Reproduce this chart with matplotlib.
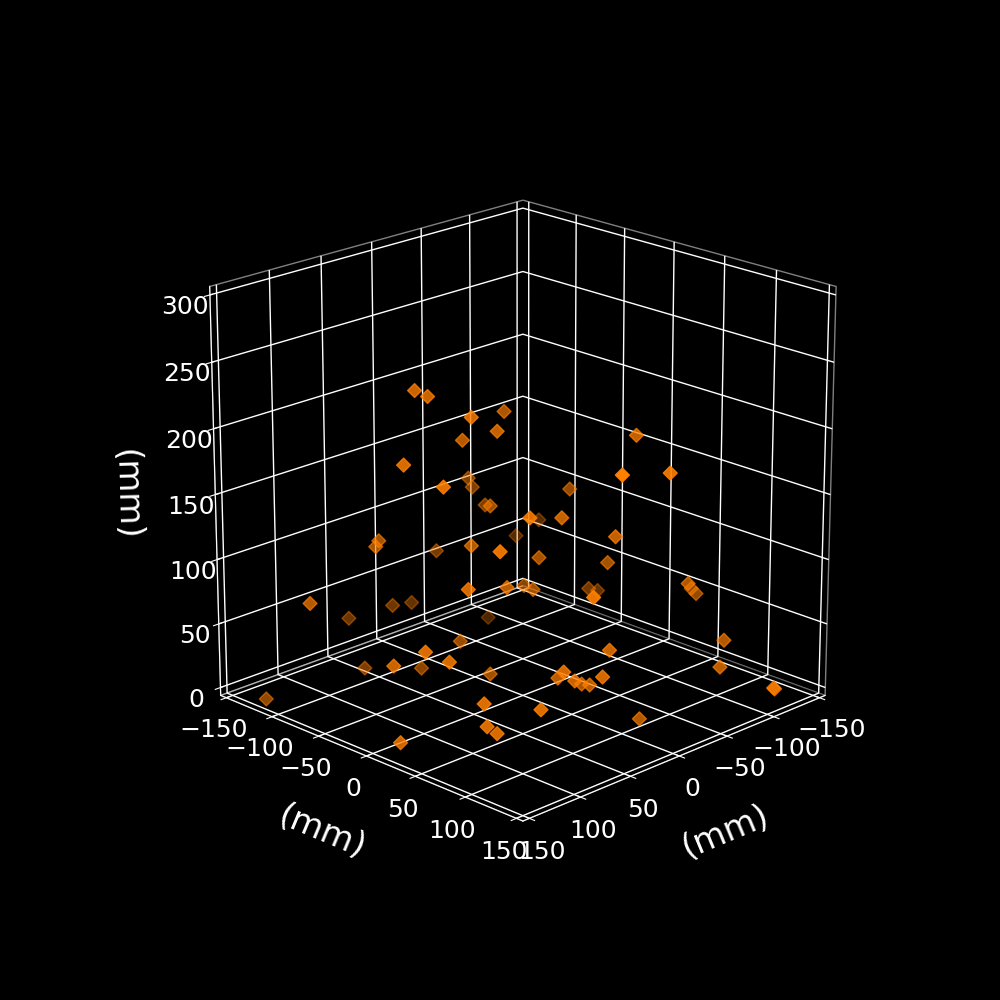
import numpy as np
import matplotlib
matplotlib.use('Agg')
import matplotlib.pyplot as plt

plt.style.use('dark_background')
plt.rcParams['grid.linewidth'] = 1.0

# positions (mm)
x = [84.0, 77.6, 70.9, 9.5, 43.1, 45.5, 119.2, 114.6, -17.1, -19.2, -25.8, 16.6, 72.3, -99.4, -87.3, 88.1, 89.7,
     -0.3, 56.2, 102.0, 7.0, 102.7, 53.4, -15.7, 10.0, 152.1, 22.9, -1.8, 45.9, -72.3, -26.2, 58.3, 3.9, -39.1,
     26.1, -0.7, -27.8, -79.9, -100.0, 71.8, -53.0, -102.0, -88.7, -55.6, 32.9, -37.9, 47.1, 138.8, 67.0, 139.8,
     127.1, 52.3, 46.9, 146.9, 125.0, 123.6, 118.7, 151.5, 97.2, 70.8, 43.1, 50.0, 15.8, 27.2, 51.7, -48.8, -65.5, 2.1]
y = [-23.4, -17.0, 20.0, -9.5, 17.5, -15.2, 2.0, 37.0, -73.8, -71.8, -65.1, -16.6, 79.2, -82.4, -94.6, -57.8, -59.3,
     -90.6, 4.4, 79.8, 23.3, 48.9, 37.5, -14.6, 20.3, -61.2, -113.8, -119.4, -136.9, -109.6, 86.8, 153.8, 147.6, 8.8,
     64.8, 91.6, 58.1, -11.0, -21.2, 140.4, 113.6, 71.7, 88.7, 146.5, 118.7, 159.1, -16.8, 43.1, -97.3, 11.7,
     54.8, -52.3, 13.7, -116.5, 87.1, 88.5, 93.4, 30.3, 114.9, 111.0, 78.1, 101.5, 75.1, 94.0, 130.2, 200.4, 186.7, 119.1]
z = [243.2, 238.8, 230.7, 213.1, 213.0, 198.8, 203.0, 194.5, 139.5, 132.5, 118.5, 141.3, 171.8, 83.0, 70.2, 122.6, 118.1,
     82.5, 126.9, 154.9, 109.7, 118.6, 103.4, 71.6, 85.2, 91.3, 39.1, 33.0, 28.8, 4.0, 210.0, 218.7, 204.8, 146.5,
     156.0, 141.8, 105.9, 52.6, 42.6, 129.5, 98.1, 69.3, 73.7, 63.2, 73.0, 51.4, 45.1, 80.3, 6.5, 61.0,
     72.8, 15.3, 28.4, 0.0, 50.3, 33.1, 27.9, 11.8, 45.9, 65.3, 43.0, 49.7, 29.5, 37.7, 61.6, 44.4, 34.7, 11.7]
xy_ticks = np.arange(-150, 151, 50)
z_ticks = np.arange(0, 301, 50)

fig = plt.figure(figsize=(10, 10), dpi=100)
ax = fig.add_subplot(projection='3d')
ax.view_init(elev=20, azim=45)
ax.set_box_aspect((1, 1, 1), zoom=.95)
ax.scatter(x, y, z, marker='D', s=50, c='#ff7f00')
ax.set_xlim(-150, 150, view_margin=1/48)
ax.set_ylim(-150, 150, view_margin=1/48)
ax.set_zlim(0, 300, view_margin=1/48)
ax.set_xticks(xy_ticks)
ax.set_yticks(xy_ticks)
ax.set_zticks(z_ticks)
ax.tick_params(labelsize=18)
ax.set_xlabel('(mm)', fontsize=24, labelpad=20)
ax.set_ylabel('(mm)', fontsize=24, labelpad=20)
ax.set_zlabel('(mm)', fontsize=24, labelpad=21)
for a in (ax.xaxis, ax.yaxis, ax.zaxis):
    a.pane.set_facecolor((0, 0, 0, 1))
    a.pane.set_edgecolor((1, 1, 1, .5))
    a.set_rotate_label(True)
fig.savefig('out.png', dpi=100)
